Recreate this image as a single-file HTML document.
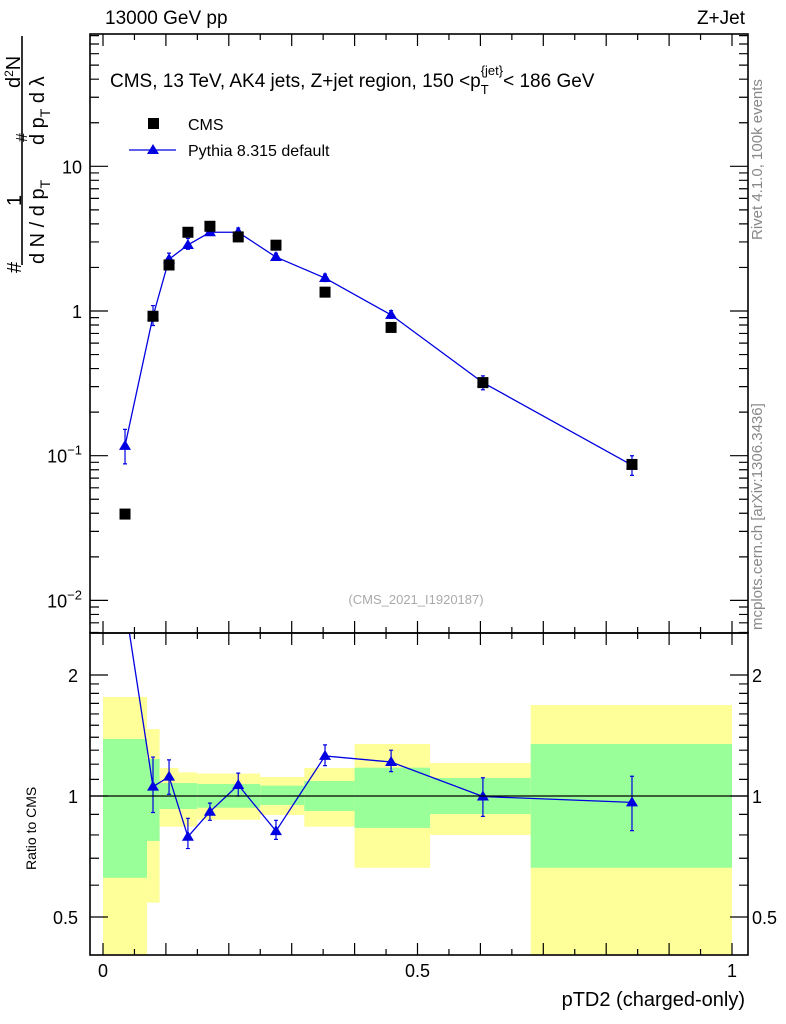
<!DOCTYPE html>
<html><head><meta charset="utf-8"><style>
body{margin:0;background:#fff}
svg{display:block;font-family:"Liberation Sans",sans-serif}
</style></head><body>
<svg id="c" width="786" height="1024" viewBox="0 0 786 1024" xmlns="http://www.w3.org/2000/svg">
<g id="bands"></g>
<g id="marks"></g>
<g id="axes"></g>
<text x="105" y="24" font-size="19">13000 GeV pp</text>
<text x="745" y="24" font-size="19" text-anchor="end">Z+Jet</text>
<text x="110" y="87" font-size="19">CMS, 13 TeV, AK4 jets, Z+jet region, 150 &lt;p<tspan font-size="13" dy="7">T</tspan><tspan font-size="13" dy="-19" dx="-8">{jet</tspan><tspan font-size="13" dx="0">}</tspan><tspan dy="12">&lt; 186 GeV</tspan></text>
<rect x="148" y="118" width="11" height="11" fill="#000"/>
<text x="188" y="130" font-size="16">CMS</text>
<line x1="129" y1="150" x2="176" y2="150" stroke="#0000e0" stroke-width="1.3"/>
<polygon points="153,144 147,154 159,154" fill="#0000e0"/>
<text x="188" y="156" font-size="16">Pythia 8.315 default</text>
<text x="416" y="604" font-size="13" fill="#aaa" text-anchor="middle">(CMS_2021_I1920187)</text>
<text transform="translate(762,240) rotate(-90)" font-size="15" fill="#888">Rivet 4.1.0,  100k events</text>
<text transform="translate(762,630) rotate(-90)" font-size="15" fill="#888">mcplots.cern.ch [arXiv:1306.3436]</text>
<g font-size="20">
<text transform="translate(21,273) rotate(-90)">#</text>
<text transform="translate(21,206) rotate(-90)">1</text>
<line x1="22" y1="36" x2="22" y2="265" stroke="#000" stroke-width="1.6"/>
<text transform="translate(44,264) rotate(-90)">d N / d p<tspan font-size="14" dy="6">T</tspan></text>
<text transform="translate(27,142) rotate(-90)" font-size="16">#</text>
<text transform="translate(44,145) rotate(-90)">d p<tspan font-size="14" dy="6">T</tspan><tspan dy="-6">   d λ</tspan></text>
<text transform="translate(20,88) rotate(-90)">d<tspan font-size="12" dy="-7">2</tspan><tspan dy="7">N</tspan></text>
</g>
<text transform="translate(36,870) rotate(-90)" font-size="14">Ratio to CMS</text>
<text x="745" y="1006" font-size="20" text-anchor="end">pTD2 (charged-only)</text>
</svg>
<script>
const xs=[0.035,0.0795,0.105,0.135,0.17,0.215,0.275,0.353,0.458,0.604,0.841];
const cmsVals=[0.0395,0.92,2.08,3.5,3.85,3.25,2.85,1.35,0.77,0.32,0.087];
const pyVals=[0.117,0.92,2.28,2.86,3.5,3.5,2.36,1.69,0.94,0.32,0.086];
const ratioVals=[3.0,1.055,1.117,0.792,0.914,1.065,0.818,1.258,1.215,0.997,0.964];
const ratioHi=[3.0,1.25,1.23,0.88,0.96,1.14,0.87,1.34,1.30,1.11,1.12];
const ratioLo=[3.0,0.91,1.01,0.74,0.87,1.0,0.78,1.19,1.15,0.89,0.82];
const binEdges=[0,0.07,0.09,0.12,0.15,0.25,0.32,0.40,0.52,0.68,1.0];
const yellowHi=[1.763,1.467,1.174,1.145,1.137,1.115,1.174,1.347,1.208,1.684];
const greenHi=[1.386,1.236,1.077,1.077,1.071,1.061,1.090,1.176,1.109,1.347];
const greenLo=[0.626,0.773,0.928,0.928,0.935,0.950,0.918,0.833,0.902,0.663];
const yellowLo=[0.3,0.543,0.839,0.839,0.873,0.897,0.839,0.663,0.800,0.3];
const mainTicks=["10","1","10<tspan dy='-8' font-size='13'>−1</tspan>","10<tspan dy='-8' font-size='13'>−2</tspan>"];

const NS="http://www.w3.org/2000/svg";
const L=90,R=748,T=34,MB=633,RB=955;
const X=v=>103+v*629;
const Y=v=>311-Math.log10(v)*144.7;
const YR=v=>Math.min(RB,Math.max(MB,796-Math.log10(v)/Math.log10(2)*121));
function mk(p,tag,a){const e=document.createElementNS(NS,tag);for(const k in a)e.setAttribute(k,a[k]);p.appendChild(e);return e;}
const bands=document.getElementById('bands'),marks=document.getElementById('marks'),axes=document.getElementById('axes');
const clipR=v=>Math.max(MB,Math.min(RB,796-Math.log10(v)/Math.log10(2)*121));
for(let i=0;i<yellowHi.length;i++){
 const x1=X(binEdges[i]),x2=X(binEdges[i+1]);
 const y1=mk(bands,'rect',{x:x1,y:clipR(yellowHi[i]),width:x2-x1,height:clipR(yellowLo[i])-clipR(yellowHi[i]),fill:'#ffff99'});
 
 
 const g=mk(bands,'rect',{x:x1,y:clipR(greenHi[i]),width:x2-x1,height:clipR(greenLo[i])-clipR(greenHi[i]),fill:'#99ff99'});
 
 
}
const one=mk(axes,'line',{x1:L,x2:R,y1:796,y2:796,stroke:'#000','stroke-width':1.2});


let pts=xs.map((x,i)=>X(x)+','+Y(pyVals[i])).join(' ');
const pl=mk(marks,'polyline',{points:pts,fill:'none',stroke:'#0000e0','stroke-width':1.3});


xs.forEach((x,i)=>{
 const cx=X(x);
 const hi=pyVals[i]*ratioHi[i]/ratioVals[i], lo=pyVals[i]*ratioLo[i]/ratioVals[i];
 const hiM=i==0?pyVals[i]*1.3:hi, loM=i==0?pyVals[i]*0.75:lo;
 const eb=mk(marks,'path',{d:`M${cx},${Y(hiM)}V${Y(loM)}M${cx-2},${Y(hiM)}h4M${cx-2},${Y(loM)}h4`,stroke:'#0000e0','stroke-width':1.2,fill:'none'});
 
 
 const y=Y(pyVals[i]);
 const t=mk(marks,'polygon',{points:`${cx},${y-6} ${cx-6},${y+4} ${cx+6},${y+4}`,fill:'#0000e0'});
 
 
 const s=mk(marks,'rect',{x:cx-5.5,y:Y(cmsVals[i])-5.5,width:11,height:11,fill:'#000'});
 
 
});
const rp=xs.map((x,i)=>[X(x),796-Math.log10(ratioVals[i])/Math.log10(2)*121]);
const cp=mk(document.getElementById('c'),'clipPath',{id:'rc'});mk(cp,'rect',{x:L,y:MB,width:R-L,height:RB-MB});
const rl=mk(marks,'polyline',{points:rp.map(p=>p.join(',')).join(' '),fill:'none',stroke:'#0000e0','stroke-width':1.3,'clip-path':'url(#rc)'});


xs.forEach((x,i)=>{if(i==0)return;const cx=X(x),y=rp[i][1];
 const a=YR(ratioHi[i]),b=YR(ratioLo[i]);
 const eb=mk(marks,'path',{d:`M${cx},${a}V${b}M${cx-2},${a}h4M${cx-2},${b}h4`,stroke:'#0000e0','stroke-width':1.2});
 
 
 const t=mk(marks,'polygon',{points:`${cx},${y-6} ${cx-6},${y+4} ${cx+6},${y+4}`,fill:'#0000e0'});
 
 
});
[[T,MB],[MB,RB]].forEach(([a,b])=>{const f=mk(axes,'rect',{x:L,y:a,width:R-L,height:b-a,fill:'none',stroke:'#000','stroke-width':1.6});
 
 });
let d='';
for(let k=0;k<=20;k++){const x=X(k*0.05),len=k%2==0?12:6;
 d+=`M${x},${T}v${len}M${x},${MB}v${-len}M${x},${MB}v${len}M${x},${RB}v${-len}`;}
for(let e=-3;e<=1;e++)for(let m=1;m<10;m++){const v=m*Math.pow(10,e);const y=Y(v);if(y<T||y>MB)continue;const len=m==1?18:9;
 d+=`M${L},${y}h${len}M${R},${y}h${-len}`;}
for(let v=0.4;v<=2.5;v+=(v<1?0.1:(v<2?0.1:0.5))){const y=796-Math.log10(v)/Math.log10(2)*121;if(y<MB||y>RB)continue;
 const maj=Math.abs(v-0.5)<1e-6||Math.abs(v-1)<1e-6||Math.abs(v-2)<1e-6;const len=maj?18:9;
 d+=`M${L},${y}h${len}M${R},${y}h${-len}`;}
const tk=mk(axes,'path',{d,stroke:'#000','stroke-width':1.2,fill:'none'});


[10,1,0.1,0.01].forEach((v,i)=>{const t=mk(axes,'text',{x:82,y:Y(v)+7,'font-size':18,'text-anchor':'end'});t.innerHTML=mainTicks[i];
 
 });
[[2,'2'],[1,'1'],[0.5,'0.5']].forEach(([v,s])=>{const y=796-Math.log10(v)/Math.log10(2)*121+7;
 const a=mk(axes,'text',{x:78,y,'font-size':18,'text-anchor':'end'});a.textContent=s;
 
 
 const b=mk(axes,'text',{x:752,y,'font-size':18});b.textContent=s;
 
 });
[[0,'0'],[0.5,'0.5'],[1,'1']].forEach(([v,s])=>{const t=mk(axes,'text',{x:X(v),y:977,'font-size':18,'text-anchor':'middle'});t.textContent=s;
 
 });
</script>
</body></html>
